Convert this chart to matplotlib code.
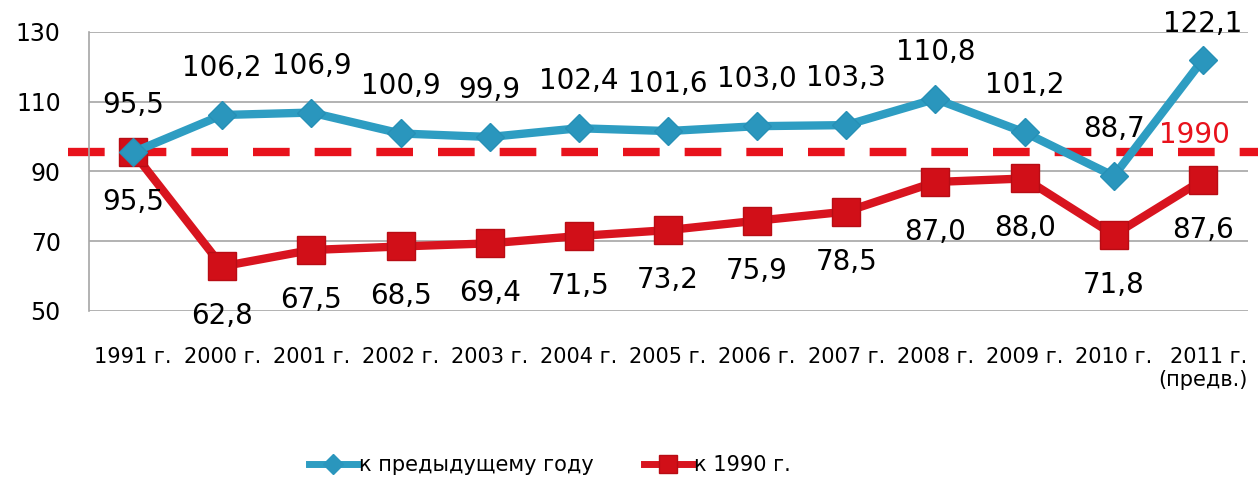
import matplotlib
matplotlib.use("Agg")
import matplotlib.pyplot as plt
import matplotlib.transforms as mtransforms
from matplotlib.lines import Line2D

categories = ["1991 г.", "2000 г.", "2001 г.", "2002 г.", "2003 г.", "2004 г.", "2005 г.",
              "2006 г.", "2007 г.", "2008 г.", "2009 г.", "2010 г.", "2011 г.\n(предв.)"]
prev_year = [95.5, 106.2, 106.9, 100.9, 99.9, 102.4, 101.6, 103.0, 103.3, 110.8, 101.2, 88.7, 122.1]
to_1990 = [95.5, 62.8, 67.5, 68.5, 69.4, 71.5, 73.2, 75.9, 78.5, 87.0, 88.0, 71.8, 87.6]
level_1990 = 95.5
yticks = [50, 70, 90, 110, 130]
series_names = ["к предыдущему году", "к 1990 г."]

BLUE = "#2e9dc2"
RED = "#d8141f"
DASH_RED = "#e8121c"

plt.rcParams['font.family'] = ['DejaVu Sans']

fig = plt.figure(figsize=(12.58, 4.90), dpi=100)
ax = fig.add_axes([88.5/1258, 1-311/490, (1247.5-88.5)/1258, (311-32)/490])

x = list(range(len(categories)))

ax.set_ylim(50, 130)
ax.set_xlim(-0.5, len(categories) - 0.5)
ax.set_yticks(yticks)
ax.yaxis.grid(True, color="#a6a6a6", linewidth=1.2)
ax.set_axisbelow(True)
for s in ["top", "right", "bottom"]:
    ax.spines[s].set_visible(False)
ax.spines["left"].set_color("#a6a6a6")
ax.spines["left"].set_linewidth(1.2)
ax.tick_params(axis="y", length=0, pad=20, labelsize=17)
ax.tick_params(axis="x", length=0, pad=26, labelsize=15)
ax.set_xticks(x)
ax.set_xticklabels(categories, multialignment="right")

# dashed 1990 level line extending beyond the axes
trans = mtransforms.blended_transform_factory(ax.transAxes, ax.transData)
ax.plot([-0.018, 1.02], [level_1990, level_1990], transform=trans, color=DASH_RED,
        linewidth=6, dashes=(4.4, 3.0), dash_capstyle="butt", clip_on=False, zorder=2)
ax.text(0.985, level_1990 + 1.0, "1990", transform=trans, color=DASH_RED, fontsize=20,
        ha="right", va="bottom", zorder=2)

ax.plot(x, to_1990, color=RED, linewidth=6, marker="s", markersize=20,
        markerfacecolor="#d10f18", markeredgecolor="#b80c14", zorder=3, clip_on=False)
ax.plot(x, prev_year, color=BLUE, linewidth=6, marker="D", markersize=14,
        markerfacecolor="#2a96bd", markeredgecolor="#2690b6", zorder=4, clip_on=False)

for i, v in enumerate(prev_year):
    off = 36 if i == len(prev_year) - 1 else 47
    ax.annotate(f"{v:.1f}".replace(".", ","), (i, v), xytext=(0, off * 0.72),
                textcoords="offset points", ha="center", va="center", fontsize=20,
                color="black", zorder=5, annotation_clip=False)
for i, v in enumerate(to_1990):
    ax.annotate(f"{v:.1f}".replace(".", ","), (i, v), xytext=(0, -50 * 0.72),
                textcoords="offset points", ha="center", va="center", fontsize=20,
                color="black", zorder=5, annotation_clip=False)

handles = [
    Line2D([], [], color=BLUE, linewidth=5, marker="D", markersize=10, markerfacecolor="#2a96bd",
           markeredgecolor="#2a96bd"),
    Line2D([], [], color=RED, linewidth=5, marker="s", markersize=13, markerfacecolor="#d10f18",
           markeredgecolor="#b80c14"),
]
fig.legend(handles, series_names, loc="center", bbox_to_anchor=(550/1258, 1-465/490), ncol=2,
           frameon=False, fontsize=15, handlelength=2.3, handletextpad=0.1, columnspacing=2.4)

fig.savefig("out.png", dpi=100, facecolor="white")
